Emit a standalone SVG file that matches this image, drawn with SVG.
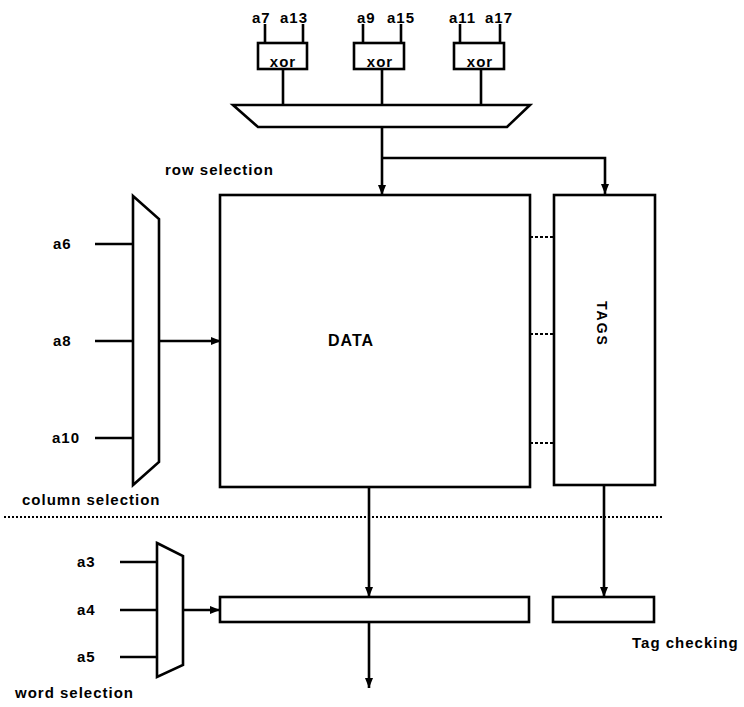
<svg xmlns="http://www.w3.org/2000/svg" width="744" height="707" viewBox="0 0 744 707">
<defs>
<marker id="ah" viewBox="0 0 10 10" refX="10" refY="5" markerWidth="4" markerHeight="4" orient="auto" markerUnits="strokeWidth">
<path d="M0,1 L10,5 L0,9 z" fill="#000"/>
</marker>
<style>
.b{fill:#fff;stroke:#000;stroke-width:2.6}
.l{fill:none;stroke:#000;stroke-width:2.6}
.d{fill:none;stroke:#000;stroke-width:2;stroke-dasharray:3,2}
.t{font-family:"Liberation Sans",Arial,sans-serif;font-weight:bold;font-size:15px;letter-spacing:1px;fill:#000}
.c{text-anchor:middle}
</style>
</defs>
<rect width="744" height="707" fill="#fff"/>

<g id="connectors">
<line class="l" x1="265" y1="24" x2="265" y2="43"/>
<line class="l" x1="303" y1="24" x2="303" y2="43"/>
<line class="l" x1="363" y1="24" x2="363" y2="43"/>
<line class="l" x1="401" y1="24" x2="401" y2="43"/>
<line class="l" x1="460" y1="24" x2="460" y2="43"/>
<line class="l" x1="500" y1="24" x2="500" y2="43"/>
<line class="l" x1="283" y1="69" x2="283" y2="105"/>
<line class="l" x1="382" y1="69" x2="382" y2="105"/>
<line class="l" x1="481" y1="69" x2="481" y2="105"/>
<line class="l" x1="382" y1="127" x2="382" y2="195" marker-end="url(#ah)"/>
<polyline class="l" points="382,158 605,158 605,194" marker-end="url(#ah)"/>
<line class="l" x1="95" y1="244" x2="133" y2="244"/>
<line class="l" x1="95" y1="341" x2="133" y2="341"/>
<line class="l" x1="95" y1="438" x2="133" y2="438"/>
<line class="l" x1="159" y1="341" x2="221" y2="341" marker-end="url(#ah)"/>
<line class="d" x1="530" y1="237" x2="554" y2="237"/>
<line class="d" x1="530" y1="334" x2="554" y2="334"/>
<line class="d" x1="530" y1="443" x2="554" y2="443"/>
<line x1="4" y1="517" x2="662" y2="517" stroke="#000" stroke-width="2" stroke-dasharray="2,2"/>
<line class="l" x1="369" y1="487" x2="369" y2="597" marker-end="url(#ah)"/>
<line class="l" x1="604" y1="485" x2="604" y2="597" marker-end="url(#ah)"/>
<line class="l" x1="369" y1="622" x2="369" y2="688" marker-end="url(#ah)"/>
<line class="l" x1="120" y1="562" x2="157" y2="562"/>
<line class="l" x1="120" y1="610" x2="157" y2="610"/>
<line class="l" x1="120" y1="657" x2="157" y2="657"/>
<line class="l" x1="183" y1="610" x2="220" y2="610" marker-end="url(#ah)"/>
</g>

<g id="xor1"><rect class="b" x="258" y="43" width="49" height="26"/><text class="t c" x="283" y="67">xor</text></g>
<g id="xor2"><rect class="b" x="354" y="43" width="50" height="26"/><text class="t c" x="380" y="67">xor</text></g>
<g id="xor3"><rect class="b" x="454" y="43" width="50" height="26"/><text class="t c" x="480" y="67">xor</text></g>

<g id="inputs-top">
<text class="t" x="252" y="23">a7</text>
<text class="t" x="280" y="23">a13</text>
<text class="t" x="357" y="23">a9</text>
<text class="t" x="387" y="23">a15</text>
<text class="t" x="449" y="23">a11</text>
<text class="t" x="485" y="23">a17</text>
</g>

<g id="row-mux"><polygon class="b" points="233,105 530,105 507,127 258,127"/></g>
<g id="row-label"><text class="t" x="165" y="175">row selection</text></g>

<g id="col-mux"><polygon class="b" points="133,196 159,219 159,462 133,485"/></g>
<g id="col-inputs">
<text class="t" x="53" y="249">a6</text>
<text class="t" x="53" y="346">a8</text>
<text class="t" x="52" y="443">a10</text>
</g>
<g id="col-label"><text class="t" x="22" y="505">column selection</text></g>

<g id="data"><rect class="b" x="220" y="195" width="310" height="292"/><text class="t c" x="351" y="346" style="font-size:16px">DATA</text></g>
<g id="tags"><rect class="b" x="554" y="195" width="101" height="290"/><text class="t c" transform="translate(597,324) rotate(90)" style="font-size:14px;letter-spacing:2px">TAGS</text></g>

<g id="word-mux"><polygon class="b" points="157,543 183,556 183,665 157,677"/></g>
<g id="word-inputs">
<text class="t" x="77" y="567">a3</text>
<text class="t" x="77" y="615">a4</text>
<text class="t" x="77" y="662">a5</text>
</g>
<g id="word-label"><text class="t" x="15" y="698">word selection</text></g>

<g id="word-reg"><rect class="b" x="220" y="597" width="309" height="25"/></g>
<g id="tag-check"><rect class="b" x="553" y="597" width="101" height="25"/><text class="t" x="632" y="648">Tag checking</text></g>
</svg>
